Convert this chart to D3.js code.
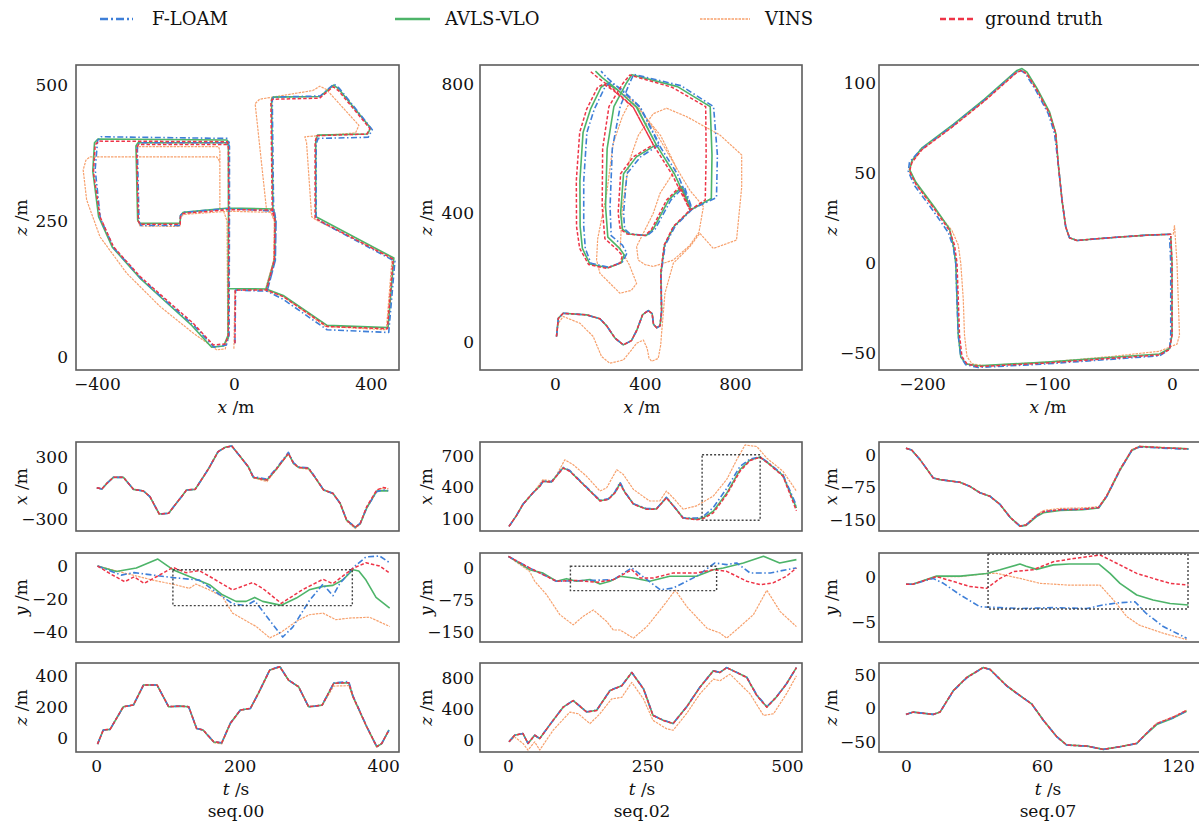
<!DOCTYPE html>
<html>
<head>
<meta charset="utf-8">
<script src="https://cdn.jsdelivr.net/npm/d3@7"></script>
<style>
  body { margin: 0; background: #fff; }
</style>
</head>
<body>
<div id="root"></div>
<script>
// ---- data ----
const legendLabels = ['F-LOAM', 'AVLS-VLO', 'VINS', 'ground truth']
const seqLabels = ['seq.00', 'seq.02', 'seq.07']

// trajectories [x, z] in metres
const seq00_gt_xz = [[3,25],[4,123],[95,123],[118,178],[120,250],[112,268],[108,470],[112,474],[250,476],[290,497],[305,490],[397,420],[388,410],[242,407],[237,395],[237,255],[246,252],[465,180],[448,52],[272,56],[144,111],[95,123],[118,178],[120,250],[115,270],[-15,271],[-148,264],[-156,258],[-157,244],[-274,244],[-279,250],[-284,385],[-278,391],[-20,391],[-16,385],[-15,270],[-16,40],[-25,24],[-60,22],[-119,62],[-197,105],[-274,148],[-352,203],[-391,258],[-410,340],[-405,390],[-395,397],[-20,396],[-15,390]]
const seq00_floam_xz = [[3,25],[5,123],[97,121],[121,178],[123,250],[116,266],[112,472],[116,478],[252,480],[292,502],[308,494],[404,418],[392,404],[246,402],[240,392],[240,256],[250,250],[470,176],[452,45],[272,50],[144,106],[97,121],[121,178],[123,250],[118,268],[-15,273],[-148,266],[-156,260],[-157,242],[-272,242],[-277,250],[-282,388],[-275,394],[-18,394],[-13,388],[-13,270],[-14,40],[-22,22],[-58,18],[-117,58],[-195,101],[-272,145],[-350,200],[-390,255],[-405,345],[-398,398],[-388,405],[-20,402],[-13,393]]
const seq00_avls_xz = [[-17,32],[-16,126],[94,125],[119,180],[121,252],[114,270],[110,474],[114,478],[251,479],[291,500],[306,493],[399,421],[390,410],[244,408],[239,396],[239,258],[248,255],[467,182],[450,54],[272,58],[144,113],[94,125],[119,180],[121,252],[116,272],[-15,274],[-148,266],[-156,260],[-157,246],[-276,246],[-281,252],[-286,388],[-280,394],[-20,394],[-16,388],[-16,270],[-17,40],[-30,20],[-65,18],[-123,58],[-200,102],[-276,146],[-355,202],[-395,258],[-412,342],[-407,394],[-397,401],[-20,399],[-15,392]]
const seq00_vins_xz = [[0,15],[3,123],[92,124],[116,178],[118,250],[108,266],[95,272],[62,466],[75,474],[230,490],[251,498],[270,492],[365,426],[355,412],[207,405],[212,395],[227,258],[240,252],[462,182],[445,50],[268,56],[142,112],[94,122],[116,178],[118,250],[108,266],[-15,268],[-148,262],[-156,256],[-158,240],[-274,241],[-280,250],[-284,380],[-278,387],[-45,387],[-41,380],[-41,272],[-30,268],[-20,250],[-18,40],[-25,15],[-50,13],[-119,44],[-216,93],[-313,154],[-391,221],[-430,289],[-440,344],[-432,362],[-420,368],[-50,368],[-42,360]]

const seq02_gt_xz = [[7,17],[15,73],[37,89],[141,84],[200,72],[230,50],[267,12],[304,-9],[340,4],[363,35],[390,85],[415,97],[432,88],[438,55],[452,44],[467,50],[474,95],[470,213],[485,300],[526,358],[600,409],[668,440],[672,580],[670,730],[520,790],[333,828],[300,800],[240,730],[212,600],[210,420],[222,320],[274,288],[300,268],[290,245],[230,228],[150,240],[110,290],[96,358],[95,500],[110,650],[141,722],[190,790],[215,800],[260,780],[348,728],[437,612],[348,574],[292,522],[281,400],[290,350],[320,335],[400,330],[430,350],[496,440],[556,482],[600,409],[520,520],[437,612],[348,728],[260,784],[190,820],[156,840]]
const seq02_floam_xz = [[7,17],[15,73],[37,89],[141,84],[200,72],[230,50],[267,12],[304,-9],[340,4],[363,35],[390,85],[415,97],[432,88],[438,55],[452,44],[467,50],[474,95],[472,213],[490,300],[535,360],[610,412],[718,448],[722,580],[705,730],[560,795],[350,830],[330,800],[290,730],[255,600],[245,420],[250,330],[300,300],[320,275],[300,248],[240,232],[160,244],[135,290],[128,358],[128,500],[142,650],[175,722],[222,790],[245,805],[295,785],[380,728],[465,612],[380,574],[320,522],[305,400],[310,350],[335,335],[410,330],[445,350],[515,440],[575,482],[610,412],[545,520],[462,612],[378,728],[290,784],[230,820],[205,840]]
const seq02_avls_xz = [[7,17],[15,73],[37,89],[141,84],[200,72],[230,50],[267,12],[304,-9],[340,4],[363,35],[390,85],[415,97],[432,88],[438,55],[452,44],[467,50],[474,95],[471,213],[487,300],[530,359],[605,410],[695,445],[698,580],[690,730],[545,792],[342,829],[315,800],[262,730],[232,600],[225,420],[235,325],[285,292],[308,270],[295,246],[236,230],[155,242],[122,290],[112,358],[111,500],[125,650],[158,722],[205,790],[230,802],[278,782],[364,728],[450,612],[362,574],[305,522],[292,400],[300,350],[328,335],[405,330],[437,350],[505,440],[565,482],[605,410],[532,520],[450,612],[362,728],[275,784],[210,820],[180,840]]
const seq02_vins_xz = [[7,17],[15,58],[37,79],[111,58],[170,17],[207,-45],[244,-66],[304,-56],[340,-25],[363,-4],[393,6],[410,-20],[418,-50],[430,-60],[459,-51],[470,-10],[474,27],[489,151],[526,244],[600,296],[644,337],[704,290],[807,316],[830,480],[830,580],[733,642],[585,699],[496,725],[437,708],[407,678],[370,640],[330,560],[300,420],[290,290],[330,240],[363,182],[340,160],[289,151],[200,213],[185,254],[190,320],[230,461],[259,616],[300,700],[330,740],[350,740],[400,700],[470,640],[540,540],[467,461],[437,399],[363,296],[370,254],[400,240],[437,234],[526,254],[600,300],[640,340],[660,420],[600,470],[540,540],[440,660],[360,740],[300,770],[289,775]]

const seq07_gt_xz = [[-1,16],[-20,15.5],[-41,14.5],[-60,13.5],[-76,12.5],[-82,14],[-85,20],[-88,35],[-91,55],[-93,72],[-98,83],[-108,96],[-116,105],[-120,107],[-124,106],[-150,90],[-175,76],[-200,63],[-208,56],[-210,51],[-205,44],[-190,30],[-178,18],[-174,10],[-172,0],[-171,-20],[-170,-40],[-168,-52],[-164,-56],[-155,-57.5],[-100,-55.5],[-50,-53],[-10,-51],[-2,-48],[0,-40],[0,0],[-1,15]]
const seq07_floam_xz = [[-1,16],[-20,15.5],[-41,14.5],[-60,13.5],[-76,12.5],[-82,14],[-85,20],[-88,35],[-91,55],[-94,72],[-99,83],[-109,96],[-117,105],[-121,107],[-125,106],[-151,90],[-176,76],[-201,63],[-210,56],[-211,51],[-206,43],[-191,29],[-179,17],[-175,9],[-173,0],[-172,-20],[-171,-40],[-169,-52],[-165,-56.5],[-155,-58],[-100,-56],[-50,-53.5],[-10,-51.5],[-2,-48],[-1,-40],[-1,0],[-2,15]]
const seq07_avls_xz = [[-1,16],[-20,15.5],[-41,14.5],[-60,13.5],[-76,12.5],[-82,14],[-85,20],[-88,35],[-91,55],[-93,72],[-98,84],[-108,97],[-116,106],[-120,108],[-124,107],[-150,91],[-175,77],[-200,64],[-208,57],[-210,52],[-205,45],[-190,31],[-178,19],[-175,10],[-173,0],[-172,-20],[-171,-40],[-169,-52],[-165,-56],[-155,-57],[-100,-55],[-50,-52.5],[-10,-50.5],[-2,-47.5],[0,-40],[0,0],[-1,15]]
const seq07_vins_xz = [[2,21],[1,16],[-20,15.5],[-41,14.5],[-60,13.5],[-76,12.5],[-82,14],[-85,20],[-88,35],[-91,55],[-93,72],[-98,83],[-108,96],[-116,105],[-120,107],[-124,106],[-150,90],[-175,76],[-200,63],[-208,56],[-210,51],[-205,44],[-190,30],[-176,18],[-171,10],[-169,0],[-167,-20],[-166,-40],[-164,-52],[-160,-56],[-150,-57],[-100,-55],[-50,-52],[-10,-49],[4,-45],[6,-40],[4,0],[2,21]]

// time series [t, value]
const seq00_x_gt = [[1,3],[8,-10],[15,45],[24,103],[38,103],[45,45],[52,-13],[66,-29],[75,-84],[88,-252],[101,-245],[108,-181],[119,-84],[126,-19],[138,-13],[145,61],[157,190],[170,352],[180,394],[189,406],[201,303],[212,206],[219,103],[238,77],[252,190],[268,335],[275,239],[282,200],[296,190],[305,103],[317,-19],[330,-52],[340,-148],[349,-310],[361,-381],[368,-342],[377,-181],[391,-19],[400,5],[407,-5]]
const seq00_x_floam = [[1,3],[8,-10],[15,45],[24,103],[38,103],[45,45],[52,-13],[66,-29],[75,-84],[88,-252],[101,-245],[108,-181],[119,-84],[126,-19],[138,-13],[145,61],[157,190],[170,352],[180,394],[189,406],[201,303],[212,206],[219,110],[238,85],[252,198],[268,345],[275,245],[282,205],[296,195],[305,106],[317,-19],[330,-52],[340,-148],[349,-310],[361,-378],[368,-342],[377,-190],[391,-35],[400,-20],[407,-25]]
const seq00_x_avls = [[1,3],[8,-10],[15,45],[24,103],[38,103],[45,45],[52,-13],[66,-29],[75,-84],[88,-252],[101,-245],[108,-181],[119,-84],[126,-19],[138,-13],[145,61],[157,190],[170,352],[180,394],[189,406],[201,303],[212,206],[219,103],[238,78],[252,190],[268,335],[275,239],[282,200],[296,190],[305,103],[317,-19],[330,-52],[340,-148],[349,-310],[361,-381],[368,-345],[377,-195],[391,-30],[400,-25],[407,-28]]
const seq00_x_vins = [[1,3],[8,-10],[15,45],[24,103],[38,103],[45,45],[52,-13],[66,-29],[75,-84],[88,-252],[101,-245],[108,-181],[119,-84],[126,-19],[138,-13],[145,61],[157,190],[170,352],[180,394],[189,406],[201,303],[212,206],[219,100],[238,62],[252,185],[268,330],[275,235],[282,195],[296,180],[305,100],[317,-19],[330,-55],[340,-150],[349,-320],[361,-392],[368,-350],[377,-185],[391,-22],[400,0],[407,-8]]

const seq00_y_gt = [[2,0],[19,-4.5],[40,-9.5],[53,-6.5],[67,-10.5],[84,-6.5],[107,-0.8],[125,-4],[144,-2.8],[163,-7.5],[190,-14.5],[218,-10],[232,-13.5],[258,-22.6],[288,-14.2],[316,-8],[330,-10.7],[344,-6],[358,-1.4],[376,2],[395,0],[409,-4.2]]
const seq00_y_floam = [[2,0],[35,-5.5],[53,-4],[107,-7],[144,-8.5],[163,-14.5],[190,-22.8],[209,-24],[221,-21],[242,-33],[260,-43],[274,-37],[297,-21],[316,-11],[330,-18],[339,-11],[358,-1],[376,5.5],[395,6.1],[409,2]]
const seq00_y_avls = [[2,0],[28,-3.3],[56,-1.2],[86,4.2],[107,-2.2],[135,-7.3],[158,-11.3],[176,-17.4],[195,-21.4],[209,-21.4],[221,-19],[232,-21.4],[258,-23.8],[279,-19.4],[297,-14.4],[316,-12.3],[330,-11.7],[344,-8.3],[358,-2.2],[366,-3],[376,-8.5],[390,-19],[409,-25.5]]
const seq00_y_vins = [[2,0],[42,-4.5],[79,-8.5],[112,-11.5],[130,-13.5],[139,-10.9],[158,-14.5],[176,-18.5],[190,-28.5],[223,-36.6],[242,-43.5],[256,-40.6],[279,-33.5],[297,-29.5],[316,-28.5],[334,-32.5],[353,-31.5],[381,-31],[409,-36.6]]

const seq00_z_gt = [[2,-39],[10,52],[19.5,56],[38,202],[52,213],[66,342],[85,342],[101,202],[117,206],[129,202],[140,62],[149,52],[164,-24],[175,-30],[187,95],[201,181],[215,191],[226,288],[242,439],[256,460],[268,374],[282,331],[296,202],[305,206],[315,213],[331,353],[352,357],[358,267],[377,73],[391,-56],[398,-34],[408,52]]
const seq00_z_floam = [[2,-39],[10,52],[19.5,56],[38,202],[52,213],[66,342],[85,342],[101,202],[117,206],[129,202],[140,62],[149,52],[164,-24],[175,-30],[187,95],[201,181],[215,191],[226,288],[242,439],[256,462],[268,374],[282,331],[296,202],[305,206],[315,213],[331,355],[352,365],[358,270],[377,75],[391,-56],[398,-34],[408,50]]
const seq00_z_avls = [[2,-39],[10,52],[19.5,56],[38,202],[52,213],[66,342],[85,342],[101,202],[117,206],[129,202],[140,62],[149,52],[164,-26],[175,-32],[187,95],[201,181],[215,191],[226,288],[242,439],[256,460],[268,374],[282,331],[296,202],[305,206],[315,213],[331,353],[352,357],[358,267],[377,73],[391,-56],[398,-36],[408,52]]
const seq00_z_vins = [[2,-39],[10,52],[19.5,56],[38,202],[52,213],[66,342],[85,342],[101,202],[117,206],[129,202],[140,62],[149,52],[164,-30],[175,-38],[187,90],[201,178],[215,191],[226,285],[242,436],[256,458],[268,374],[282,331],[296,200],[305,204],[315,210],[331,335],[352,338],[358,260],[377,70],[391,-58],[398,-36],[408,50]]

const seq02_x_gt = [[2,31],[15,131],[27,241],[45,350],[57,412],[63,459],[78,450],[99,584],[111,553],[129,459],[147,366],[165,272],[180,287],[192,350],[201,430],[210,350],[225,241],[248,194],[266,194],[284,303],[299,209],[314,109],[338,95],[350,105],[368,160],[392,330],[416,555],[434,655],[452,688],[469,616],[493,506],[517,180]]
const seq02_x_floam = [[2,31],[15,131],[27,241],[45,350],[57,412],[63,459],[78,455],[99,590],[111,560],[129,465],[147,372],[165,278],[180,292],[192,360],[201,450],[210,355],[225,245],[248,200],[266,198],[284,306],[299,212],[314,112],[338,110],[350,125],[368,210],[392,390],[416,600],[434,670],[452,690],[469,625],[493,520],[517,230]]
const seq02_x_avls = [[2,31],[15,131],[27,241],[45,350],[57,412],[63,459],[78,452],[99,586],[111,556],[129,461],[147,368],[165,275],[180,289],[192,352],[201,440],[210,352],[225,243],[248,196],[266,196],[284,304],[299,211],[314,111],[338,100],[350,112],[368,175],[392,345],[416,570],[434,660],[452,688],[469,620],[493,512],[517,205]]
const seq02_x_vins = [[2,31],[15,131],[27,241],[45,350],[63,475],[81,459],[102,662],[117,616],[141,506],[165,366],[177,397],[195,569],[207,522],[225,381],[254,272],[272,272],[284,366],[296,303],[314,194],[338,225],[368,319],[392,475],[410,662],[425,803],[446,788],[464,678],[493,553],[517,366]]

const seq02_y_gt = [[1,27],[39,0],[87,-31],[123,-29],[159,-33.6],[189,-27.3],[222,-4],[237,-23.4],[261,-23.4],[296,-11.7],[338,-11.7],[368,-4],[392,-7.8],[428,-31],[452,-39],[475,-35],[499,-19.5],[517,0]]
const seq02_y_floam = [[1,27],[39,0],[87,-31],[147,-29],[189,-27.3],[222,0],[273,-51],[296,-47],[338,-19.5],[371,11.7],[392,7.8],[410,11.7],[434,-11.7],[470,-11.7],[499,-4],[517,0]]
const seq02_y_avls = [[1,27],[39,-4],[63,-12],[87,-31],[105,-25],[123,-31],[147,-27],[165,-37.5],[183,-31],[201,-19.5],[225,-23.4],[254,-31],[290,-19.5],[308,-19.5],[338,-19.5],[368,-4],[386,0],[422,11.7],[458,27.3],[487,11.7],[517,19.5]]
const seq02_y_vins = [[1,27],[39,-8],[48,-31],[69,-62],[93,-109],[117,-133],[135,-113],[153,-98],[177,-125],[189,-145],[201,-145],[225,-164],[249,-137],[273,-98],[300,-52],[321,-91],[357,-141],[380,-152],[392,-164],[416,-137],[440,-109],[464,-52],[488,-102],[517,-137]]

const seq02_z_gt = [[2,-21],[12,63],[27,85],[36,-42],[48,63],[57,21],[81,254],[99,423],[117,508],[141,360],[159,381],[183,635],[204,698],[222,868],[243,656],[260,317],[278,254],[296,212],[320,423],[344,677],[368,889],[380,868],[392,931],[428,804],[446,571],[464,423],[481,550],[499,720],[517,931]]
const seq02_z_floam = [[2,-21],[12,63],[27,85],[36,-42],[48,63],[57,21],[81,254],[99,423],[117,508],[141,365],[159,385],[183,640],[204,700],[222,868],[243,660],[260,320],[278,258],[296,215],[320,425],[344,680],[368,889],[380,870],[392,931],[428,808],[446,580],[464,430],[481,555],[499,722],[517,931]]
const seq02_z_avls = [[2,-21],[12,63],[27,85],[36,-42],[48,63],[57,21],[81,254],[99,423],[117,508],[141,362],[159,383],[183,637],[204,699],[222,868],[243,658],[260,318],[278,256],[296,214],[320,424],[344,679],[368,889],[380,869],[392,931],[428,806],[446,575],[464,426],[481,552],[499,721],[517,931]]
const seq02_z_vins = [[2,-21],[12,42],[27,-42],[36,-127],[48,-21],[57,-127],[81,127],[111,360],[126,339],[147,212],[165,339],[186,529],[204,550],[222,741],[243,529],[260,254],[284,148],[296,127],[320,339],[344,593],[368,783],[380,762],[398,847],[434,593],[458,317],[476,339],[499,593],[517,825]]

const seq07_x_gt = [[0,15],[2.5,11],[6.2,-11],[12,-53],[15,-57],[23.8,-63],[28,-72],[32.6,-87],[37,-95],[41.5,-114],[46,-144],[50.3,-164],[53,-161],[57.6,-140],[60.6,-131],[68,-126],[78,-125],[85,-121],[88.5,-95],[94.4,-34],[99.6,11],[103,19],[110.6,17],[124.6,13.6]]
const seq07_x_floam = [[0,15],[2.5,11],[6.2,-11],[12,-53],[15,-57],[23.8,-63],[28,-72],[32.6,-87],[37,-95],[41.5,-114],[46,-144],[50.3,-164],[53,-161],[57.6,-140],[60.6,-131],[68,-126],[78,-125],[85,-121],[88.5,-96],[94.4,-35],[99.6,10],[103,18],[110.6,16],[124.6,13]]
const seq07_x_avls = [[0,15],[2.5,11],[6.2,-11],[12,-53],[15,-57],[23.8,-63],[28,-72],[32.6,-87],[37,-95],[41.5,-114],[46,-144],[50.3,-164],[53,-162],[57.6,-142],[60.6,-133],[68,-128],[78,-126],[85,-122],[88.5,-96],[94.4,-35],[99.6,10],[103,19],[110.6,17],[124.6,13.6]]
const seq07_x_vins = [[0,15],[2.5,11],[6.2,-11],[12,-53],[15,-57],[23.8,-63],[28,-72],[32.6,-87],[37,-95],[41.5,-114],[46,-144],[50.3,-163],[53,-160],[57.6,-138],[60.6,-128],[68,-123],[78,-122],[85,-119],[88.5,-93],[94.4,-32],[99.6,12],[103,20],[110.6,18],[124.6,14]]

const seq07_y_gt = [[0,-0.8],[3,-0.8],[13.5,0.05],[21,-0.5],[28,-1.05],[35.6,-1.25],[41.5,-0.15],[47.4,0.6],[56,0.8],[65,1.7],[74,2.05],[85.6,2.45],[90,1.9],[101.8,0.4],[109,-0.15],[116.5,-0.7],[124.6,-0.9]]
const seq07_y_floam = [[0,-0.8],[3,-0.8],[12,-0.15],[16.5,-0.7],[24,-2],[32.6,-3.3],[41.5,-3.4],[50.3,-3.5],[65,-3.4],[79.7,-3.5],[87,-3.1],[94.4,-2.85],[101,-2.75],[106,-4.05],[113.5,-5.5],[123.8,-6.8]]
const seq07_y_avls = [[0,-0.8],[3,-0.8],[13.5,0.1],[24,0.1],[35.6,0.4],[41.5,0.8],[50.3,1.45],[53,1.2],[57.6,0.85],[65,1.35],[72,1.45],[85,1.45],[90,0.4],[94.4,-0.7],[101.8,-2],[109,-2.55],[116.5,-2.95],[124.6,-3.1]]
const seq07_y_vins = [[0,-0.8],[3,-0.8],[13.5,0.05],[24,0.05],[35.6,0.4],[40,0.4],[50.3,-0.15],[59,-0.7],[72,-0.9],[85.6,-0.9],[91.5,-2.55],[97.4,-4.4],[103,-5.35],[113.5,-6.25],[123.8,-6.95]]

const seq07_z_gt = [[0,-8.8],[3.2,-5.4],[12,-8.8],[15,-5.4],[20.9,26.5],[26.8,46],[34,60.8],[37,58.3],[44.4,33.8],[50.3,19],[55.4,6.9],[60.6,-17.6],[66.5,-42],[70.9,-54.4],[79.7,-55.9],[87,-60.8],[94.4,-56.9],[101.8,-52],[106,-37.3],[110.6,-22.5],[118,-12.7],[123.8,-2.9]]
const seq07_z_floam = [[0,-8.8],[3.2,-5.4],[12,-8.8],[15,-5.4],[20.9,26],[26.8,45.5],[34,60.5],[37,58],[44.4,33.5],[50.3,19],[55.4,6.9],[60.6,-17.6],[66.5,-42],[70.9,-54.4],[79.7,-55.9],[87,-60.8],[94.4,-56.9],[101.8,-52],[106,-37.3],[110.6,-23],[118,-13.5],[123.8,-3.5]]
const seq07_z_avls = [[0,-8.8],[3.2,-5.4],[12,-8.8],[15,-5.4],[20.9,26.5],[26.8,46],[34,60.8],[37,58.3],[44.4,33.8],[50.3,19],[55.4,6.9],[60.6,-17.6],[66.5,-42],[70.9,-54.4],[79.7,-55.9],[87,-60.8],[94.4,-56.9],[101.8,-52],[106,-38],[110.6,-24],[118,-14],[123.8,-4]]
const seq07_z_vins = [[0,-8.8],[3.2,-5.4],[12,-8.8],[15,-5.4],[20.9,27],[26.8,46.5],[34,61],[37,58.5],[44.4,34],[50.3,19.5],[55.4,7.2],[60.6,-17],[66.5,-41.5],[70.9,-54],[79.7,-55.5],[87,-60.5],[94.4,-56.5],[101.8,-51.5],[106,-37],[110.6,-22],[118,-12.2],[123.8,-2.5]]

// dotted zoom boxes [t0, t1, v0, v1]
const seq00_y_box = [107, 357, -2.2, -24]
const seq02_x_box = [348, 452, 710, 90]
const seq02_y_box = [112, 374, 4, -53]
const seq07_y_box = [36.2, 124.4, 2.56, -3.56]

// ---- layout ----
const W = 1199, H = 825
const FONT = '"DejaVu Serif", "Liberation Serif", serif'
const FS = 17
const colX = [[76, 399], [480, 802], [879, 1205]]
const rowY = [[65, 370], [442, 531], [553, 642], [663, 752]]
const yLabelX = [21, 426, 831]
const yTickPad = [8, 6, 3]
const labelCx = [236, 642, 1048]

const style = {
  vins:  {stroke: '#f7a16d', width: 1.2, dash: '2.5,1'},
  avls:  {stroke: '#4db469', width: 1.6, dash: null},
  floam: {stroke: '#3e7fd8', width: 1.6, dash: '6,2.5,1.5,2.5'},
  gt:    {stroke: '#ee3447', width: 1.5, dash: '3.5,2'}
}
const order = ['vins', 'avls', 'floam', 'gt']
const legendKeys = ['floam', 'avls', 'vins', 'gt']
const legendPos = [[100, 133, 152], [395, 430, 445], [700, 750, 765], [940, 975, 985]]

const svg = d3.select('#root').append('svg')
  .attr('width', W).attr('height', H)
  .style('background', '#fff')

const addLabel = (x, y, v, unit, rotate) => {
  const t = svg.append('text')
    .attr('x', x).attr('y', y)
    .attr('text-anchor', 'middle')
    .attr('font-family', FONT).attr('font-size', FS).attr('fill', '#111')
  if (rotate) t.attr('transform', `rotate(-90,${x},${y})`).attr('dy', '0.35em')
  t.append('tspan').attr('font-style', 'italic').text(v)
  t.append('tspan').text(' ' + unit)
}

const panels = [
  {c: 0, r: 0, xd: [-461, 482], yd: [-24, 537], xt: [-400, 0, 400], yt: [0, 250, 500], yl: 'z', xl: ['x', '/m'],
   s: {gt: seq00_gt_xz, floam: seq00_floam_xz, avls: seq00_avls_xz, vins: seq00_vins_xz}},
  {c: 1, r: 0, xd: [-333, 1098], yd: [-87, 859], xt: [0, 400, 800], yt: [0, 400, 800], yl: 'z', xl: ['x', '/m'],
   s: {gt: seq02_gt_xz, floam: seq02_floam_xz, avls: seq02_avls_xz, vins: seq02_vins_xz}},
  {c: 2, r: 0, xd: [-234.4, 26.4], yd: [-59.4, 110], xt: [-200, -100, 0], yt: [-50, 0, 50, 100], yl: 'z', xl: ['x', '/m'],
   s: {gt: seq07_gt_xz, floam: seq07_floam_xz, avls: seq07_avls_xz, vins: seq07_vins_xz}},

  {c: 0, r: 1, xd: [-28, 422], yd: [-416, 445], yt: [-300, 0, 300], yl: 'x',
   s: {gt: seq00_x_gt, floam: seq00_x_floam, avls: seq00_x_avls, vins: seq00_x_vins}},
  {c: 0, r: 2, xd: [-28, 422], yd: [-46, 7.9], yt: [-40, -20, 0], yl: 'y', box: seq00_y_box,
   s: {gt: seq00_y_gt, floam: seq00_y_floam, avls: seq00_y_avls, vins: seq00_y_vins}},
  {c: 0, r: 3, xd: [-28, 422], yd: [-90, 484], xt: [0, 200, 400], yt: [0, 200, 400], yl: 'z', xl: ['t', '/s'],
   s: {gt: seq00_z_gt, floam: seq00_z_floam, avls: seq00_z_avls, vins: seq00_z_vins}},

  {c: 1, r: 1, xd: [-50, 527], yd: [-12.5, 831], yt: [100, 400, 700], yl: 'x', box: seq02_x_box,
   s: {gt: seq02_x_gt, floam: seq02_x_floam, avls: seq02_x_avls, vins: seq02_x_vins}},
  {c: 1, r: 2, xd: [-50, 527], yd: [-173, 35], yt: [-150, -75, 0], yl: 'y', box: seq02_y_box,
   s: {gt: seq02_y_gt, floam: seq02_y_floam, avls: seq02_y_avls, vins: seq02_y_vins}},
  {c: 1, r: 3, xd: [-50, 527], yd: [-152, 990], xt: [0, 250, 500], yt: [0, 400, 800], yl: 'z', xl: ['t', '/s'],
   s: {gt: seq02_z_gt, floam: seq02_z_floam, avls: seq02_z_avls, vins: seq02_z_vins}},

  {c: 2, r: 1, xd: [-11.9, 131.9], yd: [-175, 29.5], yt: [-150, -75, 0], yl: 'x',
   s: {gt: seq07_x_gt, floam: seq07_x_floam, avls: seq07_x_avls, vins: seq07_x_vins}},
  {c: 2, r: 2, xd: [-11.9, 131.9], yd: [-7.22, 2.67], yt: [-5, 0], yl: 'y', box: seq07_y_box,
   s: {gt: seq07_y_gt, floam: seq07_y_floam, avls: seq07_y_avls, vins: seq07_y_vins}},
  {c: 2, r: 3, xd: [-11.9, 131.9], yd: [-64.7, 67.6], xt: [0, 60, 120], yt: [-50, 0, 50], yl: 'z', xl: ['t', '/s'],
   s: {gt: seq07_z_gt, floam: seq07_z_floam, avls: seq07_z_avls, vins: seq07_z_vins}}
]

const fmt = d3.format('d')

panels.forEach((p, i) => {
  const [l, r] = colX[p.c]
  const [t, b] = rowY[p.r]
  const x = d3.scaleLinear().domain(p.xd).range([l, r])
  const y = d3.scaleLinear().domain(p.yd).range([b, t])

  const clipId = 'clip' + i
  svg.append('clipPath').attr('id', clipId)
    .append('rect').attr('x', l).attr('y', t).attr('width', r - l).attr('height', b - t)

  const g = svg.append('g').attr('clip-path', `url(#${clipId})`)
  const line = d3.line().x(d => x(d[0])).y(d => y(d[1]))

  order.forEach(k => {
    const st = style[k]
    g.append('path')
      .datum(p.s[k])
      .attr('d', line)
      .attr('fill', 'none')
      .attr('stroke', st.stroke)
      .attr('stroke-width', st.width)
      .attr('stroke-dasharray', st.dash)
      .attr('stroke-linejoin', 'round')
  })

  if (p.box) {
    const [t0, t1, v0, v1] = p.box
    g.append('rect')
      .attr('x', x(t0)).attr('y', y(v0))
      .attr('width', x(t1) - x(t0)).attr('height', y(v1) - y(v0))
      .attr('fill', 'none').attr('stroke', '#444')
      .attr('stroke-width', 1.4).attr('stroke-dasharray', '2,2')
  }

  // frame
  svg.append('rect')
    .attr('x', l).attr('y', t).attr('width', r - l).attr('height', b - t)
    .attr('fill', 'none').attr('stroke', '#5c5c5c').attr('stroke-width', 1.6)

  // y axis
  svg.append('g')
    .attr('transform', `translate(${l},0)`)
    .call(d3.axisLeft(y).tickValues(p.yt).tickSize(0).tickPadding(yTickPad[p.c]).tickFormat(fmt))
    .call(a => a.select('.domain').remove())
    .call(a => a.selectAll('text').attr('font-family', FONT).attr('font-size', FS).attr('fill', '#111'))

  // x axis
  if (p.xt) {
    svg.append('g')
      .attr('transform', `translate(0,${b})`)
      .call(d3.axisBottom(x).tickValues(p.xt).tickSize(0).tickPadding(8).tickFormat(fmt))
      .call(a => a.select('.domain').remove())
      .call(a => a.selectAll('text').attr('font-family', FONT).attr('font-size', FS).attr('fill', '#111'))
    addLabel(labelCx[p.c], b + 43, p.xl[0], p.xl[1], false)
  }

  addLabel(yLabelX[p.c], (t + b) / 2, p.yl, '/m', true)
})

// sequence names
seqLabels.forEach((s, i) => {
  svg.append('text')
    .attr('x', labelCx[i]).attr('y', 817)
    .attr('text-anchor', 'middle')
    .attr('font-family', FONT).attr('font-size', FS).attr('fill', '#111')
    .text(s)
})

// legend
legendKeys.forEach((k, i) => {
  const st = style[k]
  const [x0, x1, tx] = legendPos[i]
  svg.append('line')
    .attr('x1', x0).attr('x2', x1).attr('y1', 19).attr('y2', 19)
    .attr('stroke', st.stroke)
    .attr('stroke-width', k === 'vins' ? 1.4 : 2.4)
    .attr('stroke-dasharray', k === 'floam' ? '8,3,2,3' : (k === 'gt' ? '6,3' : st.dash))
  svg.append('text')
    .attr('x', tx).attr('y', 25)
    .attr('font-family', FONT).attr('font-size', 18).attr('fill', '#111')
    .text(legendLabels[i])
})
</script>
</body>
</html>
